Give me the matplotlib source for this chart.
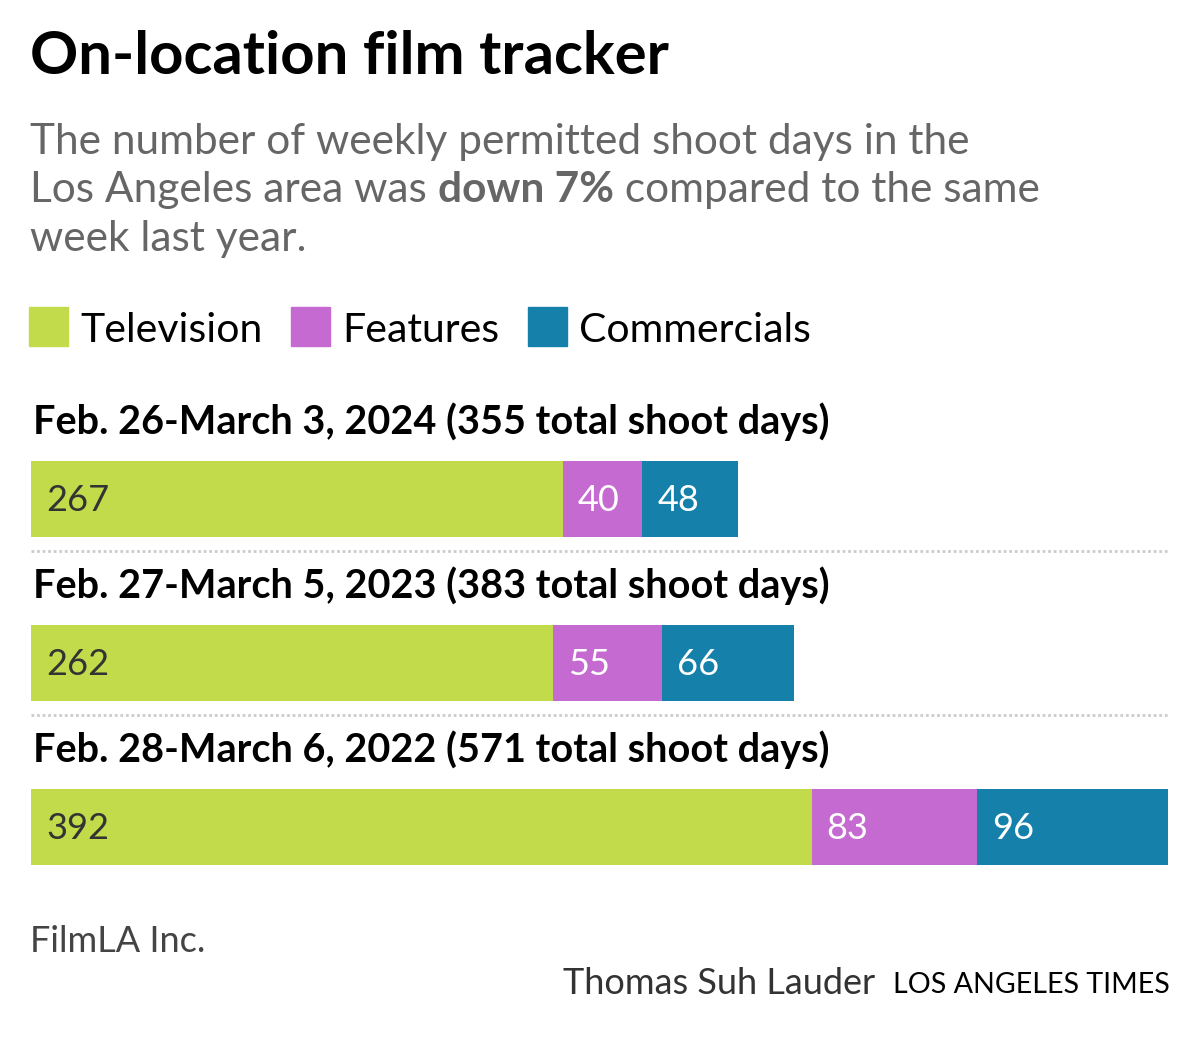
import matplotlib
matplotlib.use("Agg")
import matplotlib.pyplot as plt

# data
periods = ["Feb. 26-March 3, 2024", "Feb. 27-March 5, 2023", "Feb. 28-March 6, 2022"]
television = [267, 262, 392]
features = [40, 55, 83]
commercials = [48, 66, 96]
series_names = ["Television", "Features", "Commercials"]
colors = ["#c2db4b", "#c56ad0", "#1581aa"]
label_colors = ["#333333", "white", "white"]

W, H = 1200, 1037
plt.rcParams["font.family"] = ["Lato", "DejaVu Sans"]

fig = plt.figure(figsize=(W / 100, H / 100), dpi=100)


def px(x, y):
    return x / W, 1 - y / H


def ftext(x, y, s, **kw):
    fx, fy = px(x, y)
    return fig.text(fx, fy, s, **kw)


# header
ftext(30, 57, "On-location film tracker", fontsize=43, fontweight="bold",
      va="center", color="black")
sub_kw = dict(fontsize=30.5, va="center", color="#666666")
ftext(30, 142, "The number of weekly permitted shoot days in the", **sub_kw)
fig.canvas.draw()
r = fig.canvas.get_renderer()
t = ftext(30, 190, "Los Angeles area was ", **sub_kw)
bb = t.get_window_extent(r)
t2 = ftext(bb.x1, 190, "down 7%", fontweight="bold", **sub_kw)
bb2 = t2.get_window_extent(r)
ftext(bb2.x1, 190, " compared to the same", **sub_kw)
ftext(30, 239, "week last year.", **sub_kw)

# legend
lx = 29
for name, c in zip(series_names, colors):
    fx, fy = px(lx, 346)
    fig.patches.append(plt.Rectangle((fx, fy), 39 / W, 39 / H, color=c,
                                     transform=fig.transFigure, figure=fig))
    tt = ftext(lx + 51, 330, name, fontsize=29.5, va="center", color="black")
    lx = tt.get_window_extent(r).x1 + 29

# bars
ax = fig.add_axes([31 / W, 1 - 880 / H, (1168 - 31) / W, 480 / H])
ax.set_xlim(0, 571)
ax.set_ylim((880 - 499) / 164, (400 - 499) / 164)
ax.axis("off")

rows = list(range(len(periods)))
left = [0] * len(periods)
for vals, c, lc in zip([television, features, commercials], colors, label_colors):
    ax.barh(rows, vals, left=left, height=0.463, color=c, linewidth=0)
    for i, v in enumerate(vals):
        ax.text(left[i] + 7.5, i + 0.01, str(v), fontsize=26, color=lc,
                va="center", ha="left")
    left = [a + b for a, b in zip(left, vals)]

for i, p in enumerate(periods):
    total = television[i] + features[i] + commercials[i]
    ax.text(0.8, i - 0.47, f"{p} ({total} total shoot days)", fontsize=28.5,
            fontweight="bold", va="center", ha="left", color="black")
    if i < len(periods) - 1:
        ax.plot([0, 571], [i + 0.32, i + 0.32], color="#cccccc", lw=2,
                ls=(0, (1, 1)), solid_capstyle="butt")

# footer
ftext(30, 942, "FilmLA Inc.", fontsize=26, va="center", color="#444444")
ftext(875, 983, "Thomas Suh Lauder", fontsize=26, va="center", ha="right",
      color="#333333")
ftext(1170, 985, "LOS ANGELES TIMES", fontsize=20.6, va="center", ha="right",
      color="black")

fig.savefig("out.png", dpi=100)
